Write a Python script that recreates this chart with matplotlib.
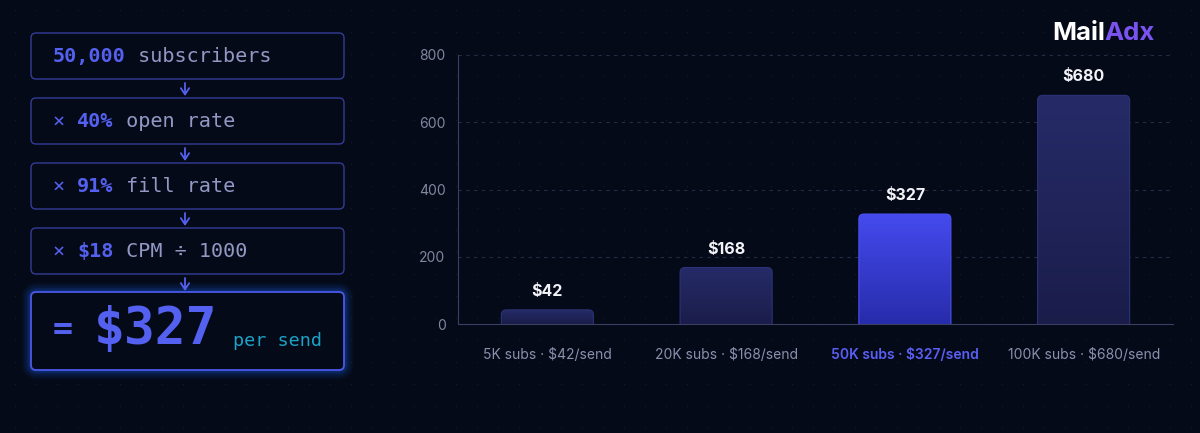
import numpy as np
import matplotlib.pyplot as plt
from matplotlib.patches import FancyBboxPatch
from matplotlib.colors import LinearSegmentedColormap

# datos de la grafica
tiers = ['5K subs', '20K subs', '50K subs', '100K subs']
ingresos = [42, 168, 327, 680]
resaltado = 2
y_ticks = [0, 200, 400, 600, 800]

# cadena del calculo: (prefijo, numero, texto)
pasos = [('', '50,000', ' subscribers'),
         ('× ', '40%', ' open rate'),
         ('× ', '91%', ' fill rate'),
         ('× ', '$18', ' CPM ÷ 1000')]
resultado = '$327'
por_envio = 'per send'

# colores
fondo = '#050a18'
azul = '#5461f0'
gris_txt = '#9298c4'
borde_caja = '#343b96'
gris_eje = '#80879f'

plt.rcParams['font.family'] = ['Inter', 'DejaVu Sans']
mono = 'DejaVu Sans Mono'

fig = plt.figure(figsize=(12, 4.33), dpi=100, facecolor=fondo)

# ---- fondo con puntos y panel izquierdo (coordenadas en pixeles) ----
bg = fig.add_axes([0, 0, 1, 1])
bg.set_xlim(0, 1200)
bg.set_ylim(433, 0)
bg.axis('off')
bg.set_facecolor(fondo)
px, py = np.meshgrid(np.arange(15, 1200, 21), np.arange(10, 433, 22))
bg.scatter(px.ravel(), py.ravel(), s=0.7, color='#161d33', lw=0)


def caja(y, alto, color, lw=1.0):
    p = FancyBboxPatch((31, y), 313, alto, boxstyle='round,pad=0,rounding_size=5',
                       facecolor=fondo, edgecolor=color, lw=lw, zorder=3)
    bg.add_patch(p)


def escribir(x, y, piezas, fs):
    cw = 0.602 * fs * 100 / 72
    for txt, color, peso in piezas:
        bg.text(x, y, txt, color=color, fontsize=fs, family=mono, weight=peso,
                va='center', ha='left', zorder=5)
        x += len(txt) * cw


fs = 14.5
for i, (pre, num, resto) in enumerate(pasos):
    y = 33 + 65 * i
    caja(y, 46, borde_caja)
    escribir(53, y + 23.5, [(pre, azul, 'normal'), (num, azul, 'bold'), (resto, gris_txt, 'normal')], fs)
    bg.annotate('', xy=(185, y + 63), xytext=(185, y + 50),
                arrowprops=dict(arrowstyle='->,head_length=0.45,head_width=0.3', color=azul, lw=1.3,
                                shrinkA=0, shrinkB=0),
                zorder=5)

# caja final con brillo
for k, a in zip(range(14, 1, -2), [0.03, 0.04, 0.05, 0.06, 0.08, 0.10, 0.12]):
    bg.add_patch(FancyBboxPatch((31, 292), 313, 78, boxstyle='round,pad=0,rounding_size=6',
                                facecolor='none', edgecolor='#1f6dff', lw=k, alpha=a, zorder=2))
caja(292, 78, '#4b58e8', lw=1.3)
bg.text(53, 330, '=', color=azul, fontsize=24, family=mono, weight='bold', va='center', zorder=5)
bg.text(94, 330, resultado, color=azul, fontsize=37, family=mono, weight='bold', va='center', zorder=5)
bg.text(233, 341, por_envio, color='#1aa3c8', fontsize=13.3, family=mono, va='center', zorder=5)

# logo
bg.text(1105, 34, 'Mail', color='white', fontsize=18.5, weight='bold', ha='right', va='center', zorder=5)
bg.text(1104, 34, 'Adx', color='#7a52f0', fontsize=18.5, weight='bold', ha='left', va='center', zorder=5)

# ---- grafica de barras ----
ax = fig.add_axes([458 / 1200, (433 - 324) / 433, 715 / 1200, 269 / 433])
ax.set_facecolor('none')
x = np.arange(len(tiers))
barras = ax.bar(x, ingresos, width=0.515, color='none', zorder=1)
ax.set_xlim(-0.5, len(tiers) - 0.5)
ax.set_ylim(0, 800)

asp = (800 / 269) / (len(tiers) / 715)
cm_normal = LinearSegmentedColormap.from_list('n', ['#1a1d4a', '#262b68'])
cm_alto = LinearSegmentedColormap.from_list('h', ['#272cab', '#454aee'])
grad = np.linspace(0, 1, 256).reshape(-1, 1)
for i, r in enumerate(barras):
    bx, bw, bh = r.get_x(), r.get_width(), r.get_height()
    cm = cm_alto if i == resaltado else cm_normal
    ec = '#4c52f2' if i == resaltado else '#2c3276'
    p = FancyBboxPatch((bx, -40), bw, bh + 40, boxstyle='round,pad=0,rounding_size=0.028',
                       mutation_aspect=asp, facecolor='none', edgecolor=ec, lw=0.8, zorder=3)
    ax.add_patch(p)
    im = ax.imshow(grad, extent=[bx, bx + bw, 0, bh], aspect='auto', cmap=cm,
                   origin='lower', zorder=2)
    im.set_clip_path(p)
    ax.text(r.get_x() + bw / 2, bh + 55, f'${ingresos[i]}', color='#f2f2f7', fontsize=11.5,
            weight='bold', ha='center', va='center')

ax.set_xlim(-0.5, len(tiers) - 0.5)
ax.set_ylim(0, 800)
ax.set_yticks(y_ticks)
ax.set_xticks(x)
ax.set_xticklabels([f'{t} · ${v}/send' for t, v in zip(tiers, ingresos)])
ax.tick_params(length=0, colors=gris_eje, labelsize=10)
ax.tick_params(axis='x', pad=17)
ax.tick_params(axis='y', pad=9)
for i, lab in enumerate(ax.get_xticklabels()):
    if i == resaltado:
        lab.set_color('#5a5ff5')
        lab.set_fontweight('semibold')
    else:
        lab.set_color('#8a90ae')
ax.grid(axis='y', color='#262c45', lw=0.8, linestyle=(0, (3, 4)))
ax.set_axisbelow(True)
for s in ['top', 'right']:
    ax.spines[s].set_visible(False)
ax.spines['left'].set_color('#3a4062')
ax.spines['bottom'].set_color('#3a4062')

fig.savefig('out.png', dpi=100, facecolor=fondo)
